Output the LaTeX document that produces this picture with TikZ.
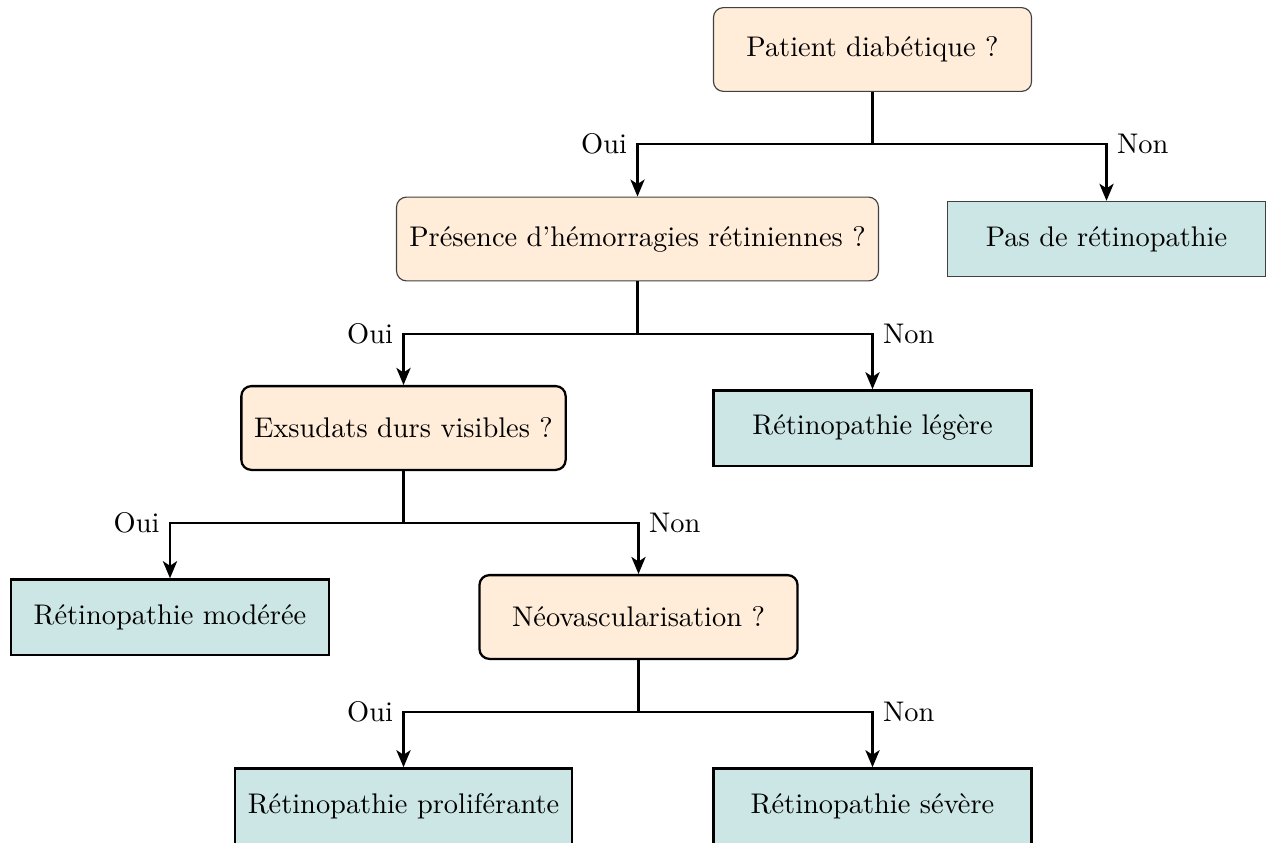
\documentclass[tikz,border=0pt]{standalone}
\usetikzlibrary{arrows.meta}
\definecolor{qfill}{RGB}{255,236,217}
\definecolor{rfill}{RGB}{204,230,230}
\tikzset{
  question/.style={draw=black, line width=0.8pt, fill=qfill, rounded corners=3.5pt,
    minimum width=112pt, minimum height=29.5pt, inner xsep=4.5pt},
  outcome/.style={draw=black, line width=0.8pt, fill=rfill,
    minimum width=112pt, minimum height=26.5pt, inner xsep=4.5pt},
  lightedge/.style={draw=black!75, line width=0.4pt},
  link/.style={thick, -{Stealth[length=6pt,width=5pt,inset=1.6pt]}},
  stem/.style={thick},
  branch/.style={inner sep=3.3pt}
}
\begin{document}
\begin{tikzpicture}[x=0.3521pt, y=-0.3521pt]
  \useasboundingbox (0,0) rectangle (1268,842);

  % decisions and outcomes
  \node[question, lightedge] (p1) at (872.5,49.5) {Patient diabétique ?};
  \node[question, lightedge] (p2) at (637.5,239) {Présence d’hémorragies rétiniennes ?};
  \node[outcome, lightedge]  (n1) at (1106.5,239) {Pas de rétinopathie};
  \node[question] (p3) at (403.5,428) {Exsudats durs visibles ?};
  \node[outcome]  (n2) at (872.5,428) {Rétinopathie légère};
  \node[outcome]  (n3) at (170,617) {Rétinopathie modérée};
  \node[question] (p4) at (638.5,617) {Néovascularisation ?};
  \node[outcome]  (n4) at (403.5,806) {Rétinopathie proliférante};
  \node[outcome]  (n5) at (872.5,806) {Rétinopathie sévère};

  % branching levels
  \coordinate (s1) at (0,144);
  \coordinate (s2) at (0,334);
  \coordinate (s3) at (0,523);
  \coordinate (s4) at (0,712);

  % connectors
  \draw[stem] (p1.south) -- (p1.south |- s1);
  \draw[link] (p1.south |- s1) -| node[pos=0.5, left, branch] {Oui} (p2.north);
  \draw[link] (p1.south |- s1) -| node[pos=0.5, right, branch] {Non} (n1.north);

  \draw[stem] (p2.south) -- (p2.south |- s2);
  \draw[link] (p2.south |- s2) -| node[pos=0.5, left, branch] {Oui} (p3.north);
  \draw[link] (p2.south |- s2) -| node[pos=0.5, right, branch] {Non} (n2.north);

  \draw[stem] (p3.south) -- (p3.south |- s3);
  \draw[link] (p3.south |- s3) -| node[pos=0.5, left, branch] {Oui} (n3.north);
  \draw[link] (p3.south |- s3) -| node[pos=0.5, right, branch] {Non} (p4.north);

  \draw[stem] (p4.south) -- (p4.south |- s4);
  \draw[link] (p4.south |- s4) -| node[pos=0.5, left, branch] {Oui} (n4.north);
  \draw[link] (p4.south |- s4) -| node[pos=0.5, right, branch] {Non} (n5.north);
\end{tikzpicture}
\end{document}
